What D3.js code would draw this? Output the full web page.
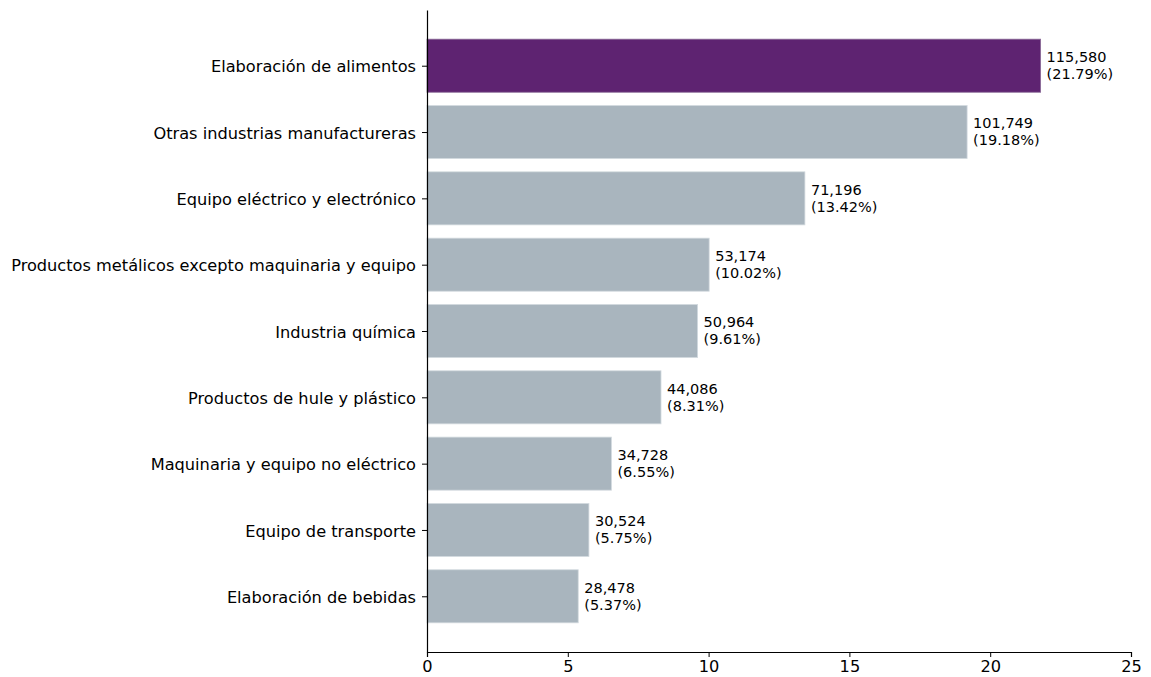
<!DOCTYPE html>
<html><head><meta charset="utf-8">
<script src="https://cdn.jsdelivr.net/npm/d3@7"></script>
<style>
html,body{margin:0;padding:0;background:#fff;}
text{font-family:"DejaVu Sans",sans-serif;fill:#000;}
</style></head>
<body><svg id="c" width="1151" height="677"></svg>
<script>
const categories = ["Elaboración de alimentos","Otras industrias manufactureras","Equipo eléctrico y electrónico","Productos metálicos excepto maquinaria y equipo","Industria química","Productos de hule y plástico","Maquinaria y equipo no eléctrico","Equipo de transporte","Elaboración de bebidas"];
const counts = [115580,101749,71196,53174,50964,44086,34728,30524,28478];
const percents = [21.79,19.18,13.42,10.02,9.61,8.31,6.55,5.75,5.37];
const xTicks = [0,5,10,15,20,25];

const svg = d3.select("#c");
const mLeft = 427, mRight = 1131, mTop = 10, mBottom = 652;
const x = d3.scaleLinear().domain([0,25]).range([mLeft,mRight]);
const y = d3.scaleLinear().domain([-0.84, categories.length - 1 + 0.84]).range([mTop,mBottom]);
const bh = y(0.4) - y(-0.4);

const g = svg.append("g");
g.selectAll("rect").data(categories).join("rect")
  .attr("x", x(0))
  .attr("y", (d,i)=>y(i)-bh/2)
  .attr("width", (d,i)=>x(percents[i])-x(0))
  .attr("height", bh)
  .attr("fill", (d,i)=> i===0 ? "#5E2371" : "#A9B5BE")
  .attr("stroke", (d,i)=> i===0 ? "#8a6a97" : "#d3dadf")
  .attr("stroke-width", 0.8);

const fmt = d3.format(",");
const lab = g.selectAll("text.v").data(categories).join("text").attr("class","v")
  .attr("x",(d,i)=>x(percents[i])+6)
  .attr("y",(d,i)=>y(i))
  .style("font-size","14.5px");
lab.append("tspan").attr("x",(d,i)=>x(percents[i])+6).attr("dy","-0.25em").text((d,i)=>fmt(counts[i]));
lab.append("tspan").attr("x",(d,i)=>x(percents[i])+6).attr("dy","1.17em").text((d,i)=>"("+percents[i].toFixed(2)+"%)");

const xAxis = d3.axisBottom(x).tickValues(xTicks).tickSize(5).tickPadding(3);
const xa = svg.append("g").attr("transform",`translate(0,${mBottom})`).call(xAxis);
xa.select(".domain").attr("stroke","#000").attr("stroke-width",1.2);
xa.selectAll("text").style("font-size","16.2px").attr("fill","#000");

const yAxis = d3.axisLeft(y).tickValues(d3.range(categories.length)).tickFormat(i=>categories[i]).tickSize(5).tickPadding(6).tickSizeOuter(0);
const ya = svg.append("g").attr("transform",`translate(${mLeft},0)`).call(yAxis);
ya.select(".domain").attr("stroke","#000").attr("stroke-width",1.2);
ya.selectAll("text").style("font-size","16.2px").attr("fill","#000").attr("dy","0.38em");
</script></body></html>
